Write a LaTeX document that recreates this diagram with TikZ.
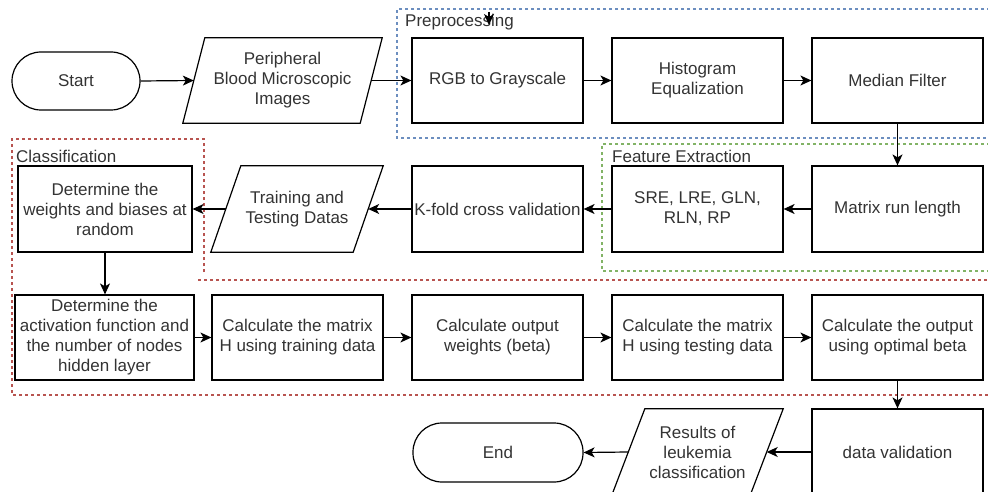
\documentclass[tikz,border=0pt]{standalone}
\usepackage{fontspec}
\setmainfont{Liberation Sans}
\usetikzlibrary{arrows.meta}
\definecolor{blueD}{HTML}{6C8EBF}
\definecolor{greenD}{HTML}{82B366}
\definecolor{redD}{HTML}{B85450}
\definecolor{txtc}{HTML}{333333}
\begin{document}
\begin{tikzpicture}[x=1pt,y=-1pt,
  every node/.style={font=\fontsize{17}{20}\selectfont, text=txtc},
  proc/.style={draw=black, line width=1.2pt, align=center, inner sep=2pt, minimum width=171pt, minimum height=85pt},
  term/.style={draw=black, line width=1.2pt, rounded corners=29pt, align=center, minimum width=128pt, minimum height=58pt},
  paratxt/.style={draw=none, align=center, inner sep=2pt, minimum height=85pt},
  paraline/.style={draw=black, line width=1.2pt, line join=miter},
  arr/.style={draw=black, line width=1.2pt, -{Stealth[length=11pt,width=10pt,inset=3pt]}},
  grp/.style={line width=1.1pt, dash pattern=on 3pt off 3pt},
  grplabel/.style={anchor=west, inner sep=0pt}
]
\useasboundingbox (0,0) rectangle (988,492);

% group frames
\draw[grp, blueD] (990,9) -- (397,9) -- (397,138) -- (990,138);
\draw[grp, greenD] (990,144) -- (602,144) -- (602,271) -- (990,271);
\draw[grp, redD] (204,272) -- (204,139) -- (12,139) -- (12,395) -- (990,395);
\draw[grp, redD] (198,280) -- (990,280);
\node[grplabel] (preLbl) at (405,22) {Preprocessing};
\node[grplabel] (featLbl) at (612,156) {Feature Extraction};
\node[grplabel] (clsLbl) at (16,156) {Classification};

% row 1
\node[term] (start) at (76,81) {Start};
\node[paratxt, minimum width=177pt] (periph) at (282.5,80.5) {Peripheral\\Blood Microscopic\\Images};
\draw[paraline] ([xshift=11pt]periph.north west) -- ([xshift=11pt]periph.north east) -- ([xshift=-11pt]periph.south east) -- ([xshift=-11pt]periph.south west) -- cycle;
\node[proc] (rgb) at (497.5,80.5) {RGB to Grayscale};
\node[proc] (hist) at (697.5,80.5) {Histogram\\Equalization};
\node[proc] (median) at (897.5,80.5) {Median Filter};

% row 2
\node[proc, minimum height=86pt] (matrix) at (897.5,209) {Matrix run length};
\node[proc, minimum height=86pt] (sre) at (697.5,209) {SRE, LRE, GLN,\\RLN, RP};
\node[proc, minimum height=86pt] (kfold) at (497.5,209) {K-fold cross validation};
\node[paratxt, minimum width=142pt, minimum height=86pt] (train) at (297,209) {Training and\\Testing Datas};
\draw[paraline] ([xshift=15pt]train.north west) -- ([xshift=15pt]train.north east) -- ([xshift=-15pt]train.south east) -- ([xshift=-15pt]train.south west) -- cycle;
\node[proc, minimum width=174pt, minimum height=86pt] (weights) at (105,209) {Determine the\\weights and biases at\\random};

% row 3
\node[proc, minimum width=179pt] (activ) at (104.5,337.5) {Determine the\\activation function and\\the number of nodes\\hidden layer};
\node[proc] (htrain) at (297.5,337.5) {Calculate the matrix\\H using training data};
\node[proc] (outw) at (497.5,337.5) {Calculate output\\weights (beta)};
\node[proc] (htest) at (697.5,337.5) {Calculate the matrix\\H using testing data};
\node[proc] (optimal) at (897.5,337.5) {Calculate the output\\using optimal beta};

% row 4
\node[proc, minimum height=86pt] (valid) at (897.5,452) {data validation};
\node[paratxt, minimum width=138pt, minimum height=86pt] (results) at (697.5,452) {Results of\\leukemia\\classification};
\draw[paraline] ([xshift=16.5pt]results.north west) -- ([xshift=16.5pt]results.north east) -- ([xshift=-16.5pt]results.south east) -- ([xshift=-16.5pt]results.south west) -- cycle;
\node[term, minimum width=170pt, minimum height=59pt] (end) at (498,452.5) {End};

% stray arrow mark near the Preprocessing label
\coordinate (markA) at (489,12);
\coordinate (markB) at (489,25);
\draw[arr] (markA) -- (markB);

% connectors
\draw[arr] (start.east) -- (periph.west);
\draw[arr] (periph.east) -- (rgb.west);
\draw[arr] (rgb.east) -- (hist.west);
\draw[arr] (hist.east) -- (median.west);
\draw[arr] (median.south) -- (matrix.north);
\draw[arr] (matrix.west) -- (sre.east);
\draw[arr] (sre.west) -- (kfold.east);
\draw[arr] (kfold.west) -- (train.east);
\draw[arr] (train.west) -- (weights.east);
\draw[arr] (weights.south) -- (weights.south |- activ.north);
\draw[arr] (activ.east) -- (htrain.west);
\draw[arr] (htrain.east) -- (outw.west);
\draw[arr] (outw.east) -- (htest.west);
\draw[arr] (htest.east) -- (optimal.west);
\draw[arr] (optimal.south) -- (valid.north);
\draw[arr] (valid.west) -- (results.east);
\draw[arr] (results.west) -- (end.east);
\end{tikzpicture}
\end{document}
